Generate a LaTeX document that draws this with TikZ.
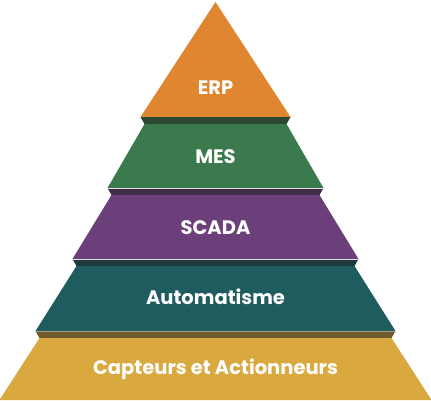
\documentclass[tikz,border=0pt]{standalone}
\usepackage{fontspec}
\setmainfont{Poppins}
\definecolor{cerp}{HTML}{E08630}
\definecolor{cmes}{HTML}{3B7A4D}
\definecolor{cscada}{HTML}{6A3F7A}
\definecolor{cauto}{HTML}{1F5C60}
\definecolor{ccapt}{HTML}{D9A83F}
\newcommand\cxpos{215.5}
\newcommand\pyrlayer[7]{% #1 ytop, #2 yband, #3 ybot, #4 htop, #5 hband, #6 hbot, #7 colour
  \fill[#7!50!black!85!gray] (\cxpos-#4,#1) -- (\cxpos+#4,#1) -- (\cxpos+#5,#2) -- (\cxpos-#5,#2) -- cycle;
  \fill[#7] (\cxpos-#5,#2) -- (\cxpos+#5,#2) -- (\cxpos+#6,#3) -- (\cxpos-#6,#3) -- cycle;
}
\begin{document}
\begin{tikzpicture}[x=1pt,y=-1pt,
  lbl/.style={text=white,anchor=base,inner sep=0pt,font=\bfseries\fontsize{19.5}{22}\selectfont},
  hl/.style={draw=white!75!gray,line width=0.9pt}]
\useasboundingbox[fill=white] (0,0) rectangle (431,400);
% ERP
\fill[cerp] (\cxpos,2) -- (\cxpos+75,117) -- (\cxpos-75,117) -- cycle;
% lower layers
\pyrlayer{117}{124}{188}{75}{71}{108}{cmes}
\pyrlayer{188}{195}{259}{108}{104}{143}{cscada}
\pyrlayer{259}{266}{331}{143}{139}{180}{cauto}
\pyrlayer{331}{338}{400}{180}{176}{216}{ccapt}
% highlight lines
\draw[hl] (\cxpos-108,188) -- (\cxpos+108,188);
\draw[hl] (\cxpos-143,259) -- (\cxpos+143,259);
\draw[hl,draw opacity=0.5] (\cxpos-180,331) -- (\cxpos+180,331);
% labels
\node[lbl] (erp) at (\cxpos,94.3) {ERP};
\node[lbl] (mes) at (\cxpos,163.3) {MES};
\node[lbl] (scada) at (\cxpos,234.3) {SCADA};
\node[lbl] (auto) at (\cxpos,304.3) {Automatisme};
\node[lbl] (capt) at (\cxpos,374.3) {Capteurs et Actionneurs};
\end{tikzpicture}
\end{document}
